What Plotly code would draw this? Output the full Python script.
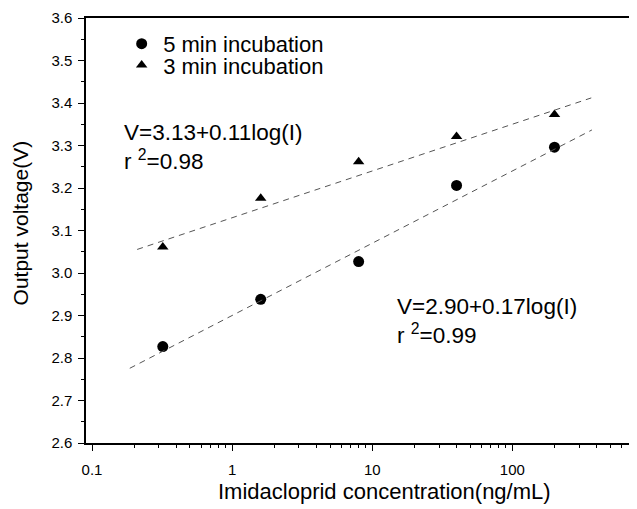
import numpy as np
import plotly.graph_objects as go

conc = [0.32, 1.6, 8, 40, 200]
v5 = [2.827, 2.938, 3.027, 3.206, 3.296]
v3 = [3.061, 3.176, 3.262, 3.321, 3.373]
fit5 = (2.90, 0.17)
fit3 = (3.13, 0.11)
fit5_x = [0.186, 370]
fit3_x = [0.21, 366]
x_major = [0.1, 1, 10, 100]
x_major_text = ["0.1", "1", "10", "100"]
x_minor = [m * 10.0 ** e for e in (-1, 0, 1, 2) for m in range(2, 10)]
eq3 = "V=3.13+0.11log(I)<br>r <sup>2</sup>=0.98"
eq5 = "V=2.90+0.17log(I)<br>r <sup>2</sup>=0.99"

FONT = "Liberation Sans, Arial, sans-serif"
TXT = dict(family=FONT, color="black", size=22.5)

fig = go.Figure()
fig.add_trace(go.Scatter(x=conc, y=v5, mode="markers", name="5 min incubation",
                         marker=dict(symbol="circle", size=11, color="black"), legend="legend"))
fig.add_trace(go.Scatter(x=conc, y=v3, mode="markers", name="3 min incubation",
                         marker=dict(symbol="triangle-up", size=10, color="black"), legend="legend2"))
for (a, b), xs in ((fit5, fit5_x), (fit3, fit3_x)):
    ys = [a + b * np.log10(x) for x in xs]
    fig.add_trace(go.Scatter(x=xs, y=ys, mode="lines", showlegend=False,
                             line=dict(color="#555", width=1, dash="6px,5px")))

fig.add_annotation(x=0.0653, y=0.6965, xref="paper", yref="paper", xanchor="left", yanchor="middle",
                   align="left", text=eq3, showarrow=False, font=TXT)
fig.add_annotation(x=0.561, y=0.287, xref="paper", yref="paper", xanchor="left", yanchor="middle",
                   align="left", text=eq5, showarrow=False, font=TXT)
# axis titles
fig.add_annotation(x=0.541, y=-0.113, xref="paper", yref="paper", xanchor="center", yanchor="middle",
                   text="Imidacloprid concentration(ng/mL)", showarrow=False,
                   font=dict(family=FONT, color="black", size=22))
fig.add_annotation(x=-0.1198, y=0.519, xref="paper", yref="paper", xanchor="center", yanchor="middle",
                   text="Output voltage(V)", showarrow=False, textangle=-90,
                   font=dict(family=FONT, color="black", size=21))

leg = dict(xanchor="left", yanchor="middle", bgcolor="rgba(0,0,0,0)",
           font=dict(size=22, family=FONT, color="black"), itemwidth=33)

fig.update_layout(
    width=629, height=501,
    margin=dict(l=78, r=0, t=10, b=66),
    paper_bgcolor="white", plot_bgcolor="white",
    font=dict(family=FONT, color="black", size=15),
    showlegend=True,
    legend=dict(x=0.062, y=0.939, **leg),
    legend2=dict(x=0.062, y=0.889, **leg),
    xaxis=dict(type="log", range=[-1.043, 2.89], showgrid=False, zeroline=False,
               showline=True, linecolor="black", linewidth=1.5, mirror=True,
               ticks="outside", ticklen=6, tickwidth=1.2, tickcolor="black",
               tickmode="array", tickvals=x_major, ticktext=x_major_text,
               tickfont=dict(size=15, family=FONT), ticklabelstandoff=6,
               minor=dict(ticks="outside", ticklen=3, tickcolor="black", showgrid=False,
                          tickmode="array", tickvals=x_minor),
               automargin=False),
    yaxis=dict(range=[2.6, 3.6], showgrid=False, zeroline=False,
               showline=True, linecolor="black", linewidth=1.5,
               ticks="outside", ticklen=6, tickwidth=1.2, tickcolor="black",
               dtick=0.1, tickformat=".1f", tickfont=dict(size=15, family=FONT), ticklabelstandoff=3,
               minor=dict(ticks="outside", ticklen=3, dtick=0.05, tickcolor="black", showgrid=False),
               automargin=False),
)

fig.write_html("out.html")
